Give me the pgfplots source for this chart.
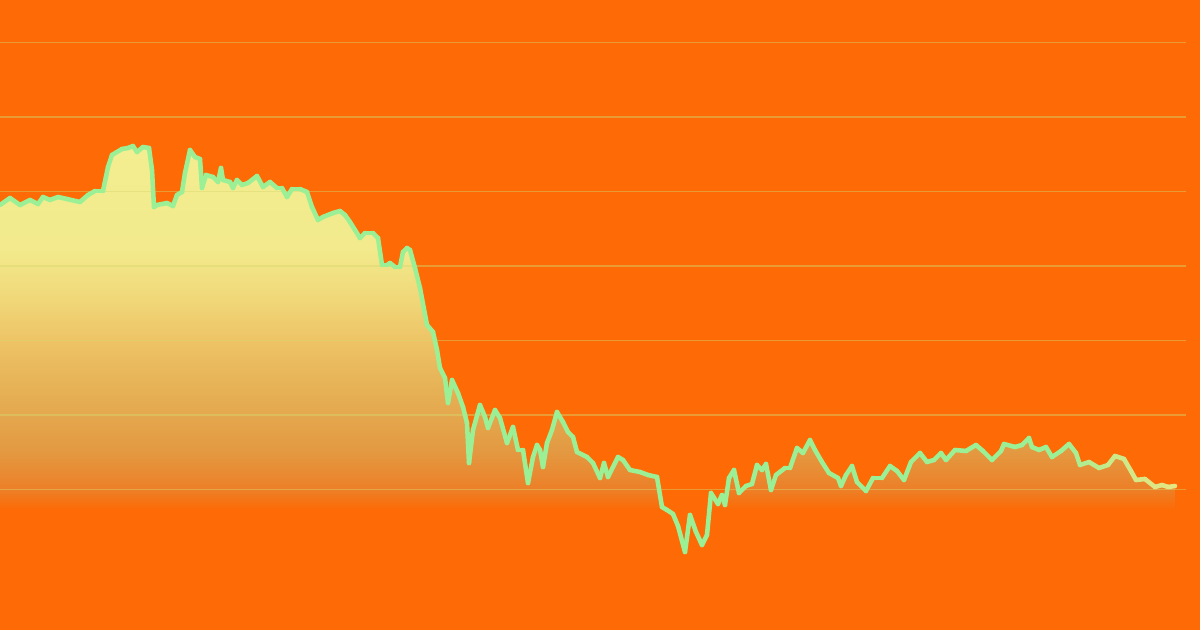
\documentclass[border=0pt]{standalone}
\usepackage{pgfplots}
\pgfplotsset{compat=1.18}
\usepackage{pgfplotstable}

\definecolor{bgorange}{RGB}{253,106,6}
\definecolor{gridc}{RGB}{215,215,110}
\definecolor{lineg}{RGB}{155,240,150}
\definecolor{liney}{RGB}{240,228,128}

% fill under the line: pale yellow at the top, back to the orange near the bottom
% (tikz fits the middle 25bp..75bp of a shading to the path)
\pgfdeclareverticalshading{areafade}{100bp}{
  color(0bp)=(bgorange);
  color(37.4bp)=(bgorange);
  color(39.6bp)=(rgb,255:red,236;green,128;blue,40);
  color(43.6bp)=(rgb,255:red,227;green,154;blue,66);
  color(48.8bp)=(rgb,255:red,229;green,173;blue,82);
  color(55bp)=(rgb,255:red,237;green,196;blue,102);
  color(59.1bp)=(rgb,255:red,240;green,215;blue,120);
  color(64.3bp)=(rgb,255:red,242;green,234;blue,140);
  color(75bp)=(rgb,255:red,243;green,238;blue,145);
  color(100bp)=(rgb,255:red,243;green,238;blue,145)}

% pixel positions (py counted from the top)
\pgfplotstableread{
px py
0 205
10 198
20 205
30 200
38 204
43 197
50 200
58 197
67 199
80 202
88 195
95 191
103 191
108 167
112 155
122 149
128 148
133 146
137 152
143 147
149 148
152 170
154 207
157 205
167 203
173 206
177 195
182 192
185 173
190 150
195 157
200 159
202 188
206 175
213 177
218 182
221 168
223 180
230 182
233 188
237 180
242 185
248 183
257 176
263 187
270 182
277 188
282 188
287 197
292 189
300 189
307 192
312 207
318 220
323 217
333 213
340 211
345 215
350 222
355 230
360 238
365 233
373 233
378 238
382 265
387 265
390 263
395 267
400 267
403 252
407 248
410 250
415 268
420 288
427 325
433 332
437 350
440 368
445 378
448 403
452 380
458 393
463 407
467 423
469 463
473 430
480 405
485 417
488 428
495 410
500 418
507 443
513 427
518 450
523 450
528 483
533 457
537 445
540 450
543 467
547 443
552 430
557 412
563 422
568 432
573 437
577 452
587 457
593 463
600 478
604 463
608 477
618 457
623 460
630 470
640 472
648 475
657 477
662 507
667 510
673 514
678 526
685 552
690 515
696 532
702 545
707 535
711 493
718 504
722 495
725 505
729 478
734 470
739 493
746 486
752 484
757 465
762 470
766 464
771 490
776 475
785 468
790 468
797 448
803 453
810 440
815 450
822 462
829 473
838 478
841 486
846 475
852 466
857 482
866 491
873 478
882 478
890 466
897 471
904 480
911 462
920 453
927 462
934 460
941 453
946 460
955 450
966 451
976 445
983 451
992 460
1001 451
1004 444
1015 447
1022 445
1029 438
1032 447
1039 450
1046 447
1052 457
1061 451
1069 444
1076 453
1080 465
1089 462
1099 468
1108 465
1115 456
1124 459
1131 471
1136 480
1145 479
1155 487
1162 485
1168 487
1175 486
}\pricedata

\begin{document}
\begin{tikzpicture}
\begin{axis}[
    scale only axis,
    width=12cm, height=6.3cm,
    xmin=0, xmax=1200,
    ymin=0, ymax=630,
    hide axis,
    clip=true,
    colormap={linefade}{color(0cm)=(lineg) color(10.6cm)=(lineg) color(11.2cm)=(liney!60!lineg) color(12cm)=(liney)},
]
% background
\addplot[draw=none, fill=bgorange] coordinates {(0,0) (1200,0) (1200,630) (0,630)} \closedcycle;

% area under the line
\addplot[draw=none, shade, shading=areafade]
  table[x=px, y expr=630-\thisrow{py}] {\pricedata} \closedcycle;

% faint horizontal guides, over the area so they show through it
\pgfplotsinvokeforeach{587.5,513,438.5,364,289.5,215,140.5}{
  \addplot[gridc, line width=0.45pt, opacity=0.45] coordinates {(0,#1) (1186,#1)};
}

% the line itself
\addplot[mesh, point meta=x, point meta min=0, point meta max=1200,
         line width=1.3pt, line cap=round, line join=round]
  table[x=px, y expr=630-\thisrow{py}] {\pricedata};
\end{axis}
\end{tikzpicture}
\end{document}
